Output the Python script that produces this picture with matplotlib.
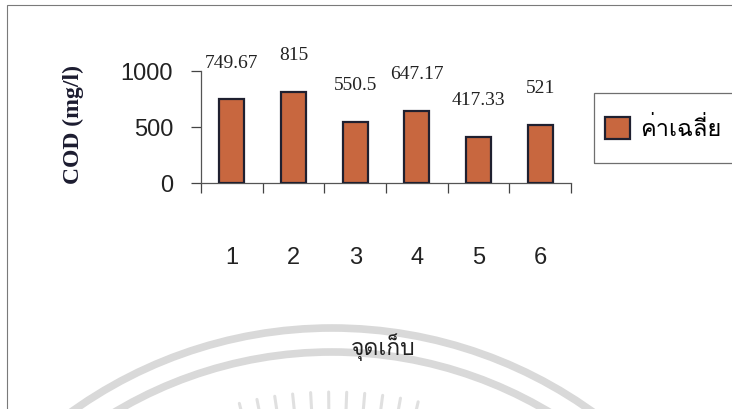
import os
import numpy as np
import matplotlib
matplotlib.use("Agg")
import matplotlib.pyplot as plt
import matplotlib.patches as patches
from matplotlib import font_manager
from matplotlib.ft2font import FT2Font

points = ["1", "2", "3", "4", "5", "6"]
cod_mean = [749.67, 815, 550.5, 647.17, 417.33, 521]
value_labels = ["749.67", "815", "550.5", "647.17", "417.33", "521"]
y_ticks = [0, 500, 1000]
series_name = "ค่าเฉลี่ย"
x_title = "จุดเก็บ"
y_title = "COD (mg/l)"

# pick an installed font with Thai glyphs, regular weight preferred
all_fonts = sorted(font_manager.findSystemFonts())
thai_file = None
for want in ("Umpush.otf", "Loma.otf", "Garuda.otf", "Waree.otf"):
    hits = [f for f in all_fonts if os.path.basename(f) == want]
    if hits:
        thai_file = hits[0]
        break
if thai_file is None:
    for f in all_fonts:
        try:
            if 0x0E08 in FT2Font(f).get_charmap():
                thai_file = f
                break
        except Exception:
            pass
if thai_file:
    thai_font = font_manager.FontProperties(fname=thai_file)
else:
    thai_font = font_manager.FontProperties(family="DejaVu Sans")

num_family = "Liberation Sans"

W, H = 732, 409
fig = plt.figure(figsize=(W / 100, H / 100), dpi=100)

def fx(px):
    return px / W

def fy(py):
    return 1 - py / H

# scanned page frame
fig.add_artist(patches.Rectangle((fx(7), fy(420)), 1, fy(5) - fy(420), transform=fig.transFigure,
                                 fill=False, edgecolor="#7a7a7a", linewidth=0.8))
# faint watermark (arcs + rays) from the scan
cx, cy = 332, 775
for r in (447, 423):
    fig.add_artist(patches.Arc((fx(cx), fy(cy)), 2 * r / W, 2 * r / H, theta1=20, theta2=160,
                               transform=fig.transFigure, color="#d9d9d9", linewidth=5.5))
for ang in np.linspace(-14, 13, 11):
    a = np.radians(ang)
    x0, y0 = cx + 366 * np.sin(a), cy - 366 * np.cos(a)
    x1, y1 = cx + 383 * np.sin(a), cy - 383 * np.cos(a)
    fig.add_artist(plt.Line2D([fx(x0), fx(x1)], [fy(y0), fy(y1)], transform=fig.transFigure,
                              color="#e0e0e0", linewidth=2.2, solid_capstyle="round"))

ax = fig.add_axes([fx(201), fy(183.5), fx(571) - fx(201), fy(71) - fy(183.5)])
xs = list(range(1, len(points) + 1))
bars = ax.bar(xs, cod_mean, width=0.41, color="#c8673f", edgecolor="#1f2030",
              linewidth=1.6, label=series_name, zorder=3)

for x, v, t in zip(xs, cod_mean, value_labels):
    ax.annotate(t, (x, v), xytext=(0, 26), textcoords="offset points", ha="center", va="center",
                fontsize=14, family="Liberation Serif", color="#222222")

ax.set_xlim(0.5, 6.5)
ax.set_ylim(0, 1000)
ax.set_yticks(y_ticks)
ax.set_yticklabels([str(t) for t in y_ticks], fontsize=17, family=num_family, color="#222222")
ax.tick_params(axis="y", direction="out", length=7, width=0.9, pad=13, color="#444444")

ax.set_xticks(xs)
ax.set_xticklabels(points, fontsize=17, family=num_family, color="#222222")
ax.tick_params(axis="x", which="major", length=0, pad=46)
ax.set_xticks([x + 0.5 for x in range(len(points) + 1)], minor=True)
ax.tick_params(axis="x", which="minor", direction="out", length=7, width=0.9, color="#444444")

for s in ("top", "right"):
    ax.spines[s].set_visible(False)
for s in ("left", "bottom"):
    ax.spines[s].set_color("#555555")
    ax.spines[s].set_linewidth(0.9)

fig.text(fx(73), fy(125), y_title, rotation=90, ha="center", va="center", fontsize=17,
         fontweight="bold", family="Liberation Serif", color="#1c1c30")
fig.text(fx(383), fy(347), x_title, ha="center", va="center", fontproperties=thai_font, size=16.5,
         color="#222222")

# legend box runs off the right edge in the scan
fig.add_artist(patches.Rectangle((fx(594), fy(163)), fx(800) - fx(594), fy(93) - fy(163),
                                 transform=fig.transFigure, fill=False, edgecolor="#6f6f6f",
                                 linewidth=0.9))
leg_font = thai_font.copy()
leg_font.set_size(17)
ax.legend(loc="center left", bbox_to_anchor=(fx(605), fy(129)), bbox_transform=fig.transFigure,
          prop=leg_font, frameon=False, borderpad=0, handlelength=1.05, handleheight=1.05,
          handletextpad=0.45, borderaxespad=0)

fig.savefig("out.png", dpi=100)
